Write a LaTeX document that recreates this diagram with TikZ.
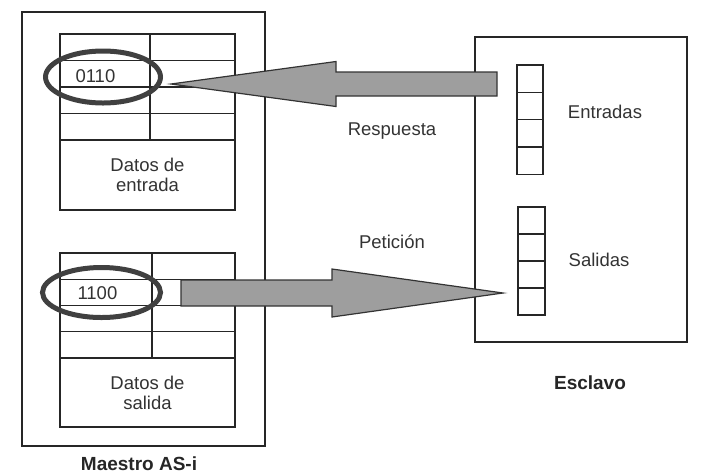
\documentclass[tikz,border=0pt]{standalone}
\usepackage{fontspec}
\setmainfont{Liberation Sans}
\usetikzlibrary{shapes.geometric, positioning, calc}

\begin{document}
\begin{tikzpicture}[
    x=1pt, y=-1pt,
    outerbox/.style={rectangle, draw=black!85, line width=1.4pt, outer sep=0pt, inner sep=0pt},
    tabcell/.style={outerbox, minimum height=26.5pt},
    databox/.style={outerbox, minimum width=175pt, minimum height=70pt, align=center, font=\fontsize{18.5}{20}\selectfont, text=black!80},
    iobox/.style={outerbox, minimum width=26pt, minimum height=27.3pt},
    ring/.style={ellipse, draw=black!75, line width=5pt, inner sep=0pt},
    lbl/.style={font=\fontsize{18.5}{21}\selectfont, text=black!80},
    boldlbl/.style={font=\fontsize{19}{22}\selectfont\bfseries, text=black!85},
    blockarrow/.style={draw=black!80, line width=1.2pt, fill=black!38, line join=miter}
]
\useasboundingbox (0,0) rectangle (706,475);

% master and slave frames
\node[outerbox, minimum width=243pt, minimum height=434pt, anchor=north west] (maestro) at (22,12) {};
\node[outerbox, minimum width=212pt, minimum height=305pt, anchor=north west] (esclavo) at (475,37) {};

% input table of the master
\foreach \r in {1,...,4} {
  \node[tabcell, minimum width=90pt, anchor=north west] (in-a\r) at (60,{34+26.5*(\r-1)}) {};
  \node[tabcell, minimum width=85pt, right=0pt of in-a\r] (in-b\r) {};
}
\node[databox, anchor=north west] (in-data) at (in-a4.south west) {Datos de\\entrada};

% output table of the master
\foreach \r in {1,...,4} {
  \node[tabcell, minimum width=92pt, minimum height=26.25pt, anchor=north west] (out-a\r) at (60,{253+26.25*(\r-1)}) {};
  \node[tabcell, minimum width=83pt, minimum height=26.25pt, right=0pt of out-a\r] (out-b\r) {};
}
\node[databox, minimum height=69pt, anchor=north west] (out-data) at (out-a4.south west) {Datos de\\salida};

% slave inputs and outputs
\foreach \k in {1,...,4} {
  \node[iobox, anchor=north west] (ent-\k) at (517,{65+27.3*(\k-1)}) {};
  \node[iobox, minimum width=27pt, minimum height=27pt, anchor=north west] (sal-\k) at (518,{207+27*(\k-1)}) {};
}

% marked values
\node[ring, minimum width=115pt, minimum height=52pt] (ring-in) at (103,77) {};
\node[ring, minimum width=118pt, minimum height=50pt] (ring-out) at (101.5,292.5) {};
\node[lbl, anchor=west] (val-in) at ($(in-a2.west)+(12,2)$) {0110};
\node[lbl, anchor=west] (val-out) at ($(out-a2.west)+(14,1)$) {1100};

% block arrows
\coordinate (resp-tail) at (497,84);
\coordinate (resp-tip) at (171,84);
\coordinate (req-tail) at (181,293);
\coordinate (req-tip) at (503,293);
\draw[blockarrow] (resp-tip) -- ++(165,-22.5) -- ++(0,10.5) -- ($(resp-tail)+(0,-12)$)
  -- ++(0,24) -- ($(resp-tip)+(165,12)$) -- ++(0,10.5) -- cycle;
\draw[blockarrow] (req-tip) -- ++(-171,-24) -- ++(0,11) -- ($(req-tail)+(0,-13)$)
  -- ++(0,26) -- ($(req-tip)+(-171,13)$) -- ++(0,11) -- cycle;

% labels
\node[lbl] (l-resp) at (392,131) {Respuesta};
\node[lbl] (l-pet) at (392,242) {Petición};
\node[lbl] (l-ent) at (605,112) {Entradas};
\node[lbl] (l-sal) at (599,260) {Salidas};
\node[boldlbl] (l-escl) at (590,383) {Esclavo};
\node[boldlbl] (l-maes) at (139,464) {Maestro AS-i};
\end{tikzpicture}
\end{document}
